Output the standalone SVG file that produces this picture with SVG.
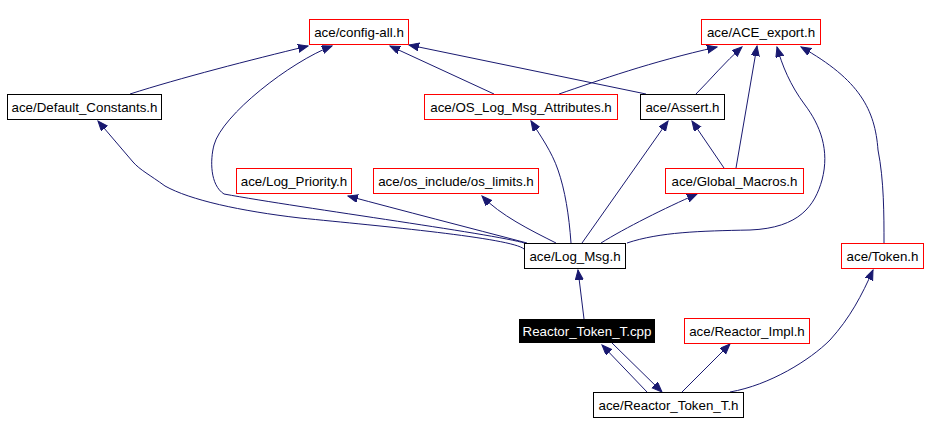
<svg xmlns="http://www.w3.org/2000/svg" width="928" height="435" viewBox="0 0 928 435">
<style>
.n rect{fill:#fff;stroke-width:1}
.r rect{stroke:#ff0000}
.b rect{stroke:#000}
text{font-family:"Liberation Sans",Arial,Helvetica,sans-serif;font-size:13.33px;text-anchor:middle;fill:#000}
.e path{fill:none;stroke:#191970;stroke-width:1;marker-end:url(#ah)}
</style>
<defs>
<marker id="ah" markerUnits="userSpaceOnUse" markerWidth="11" markerHeight="9" refX="10" refY="4" orient="auto" viewBox="0 0 11 9">
<path d="M0,0 L10,4 L0,8 z" fill="#191970" stroke="#191970" stroke-width="1"/>
</marker>
</defs>
<rect width="928" height="435" fill="#fff"/>
<g id="edges" class="e">
<path d="M130,94 C180,78 250,60 308,46"/>
<path d="M527,244 C510,236 300,208 224,194 C210,185 210,160 214,145 C222,115 290,62 332,46"/>
<path d="M524,249 C512,238 380,226 300,218 C240,211 190,200 165,186 C150,175 140,170 133,162 L98,121"/>
<path d="M527,243 C470,228 400,210 348,196"/>
<path d="M556,243 C530,230 500,215 482,196"/>
<path d="M571,243 C569,215 565,190 558,170 C552,152 540,135 531,121"/>
<path d="M582,243 L668,121"/>
<path d="M601,243 C625,228 665,208 697,194"/>
<path d="M627,243 C660,232 700,231 750,230 C800,228 815,205 822,180 C830,150 820,125 805,105 C790,85 782,65 777,47"/>
<path d="M736,168 L757,46"/>
<path d="M724,168 L692,121"/>
<path d="M696,94 C710,80 725,62 742,47"/>
<path d="M646,94 L409,45"/>
<path d="M494,94 L390,46"/>
<path d="M559,94 C600,80 650,62 717,47"/>
<path d="M884,243 C884,215 884,180 878,150 C875,110 860,80 801,47"/>
<path d="M584,319 L578,270"/>
<path d="M647,392 L602,345"/>
<path d="M612,343 L662,392"/>
<path d="M682,392 L730,344"/>
<path d="M730,392 C770,385 810,360 830,340 C850,318 862,295 873,270"/>
</g>
<g id="config_all" class="n r"><rect x="309.5" y="19.5" width="99" height="25"/><text x="359" y="37">ace/config-all.h</text></g>
<g id="ace_export" class="n r"><rect x="701.5" y="19.5" width="119" height="25"/><text x="761" y="37">ace/ACE_export.h</text></g>
<g id="default_constants" class="n b"><rect x="7.5" y="94.5" width="154" height="25"/><text x="84.5" y="112">ace/Default_Constants.h</text></g>
<g id="os_log_msg_attributes" class="n r"><rect x="424.5" y="94.5" width="193" height="25"/><text x="521" y="112">ace/OS_Log_Msg_Attributes.h</text></g>
<g id="assert" class="n b"><rect x="640.5" y="94.5" width="84" height="25"/><text x="682.5" y="112">ace/Assert.h</text></g>
<g id="log_priority" class="n r"><rect x="236.5" y="168.5" width="115" height="25"/><text x="294" y="186">ace/Log_Priority.h</text></g>
<g id="os_limits" class="n r"><rect x="373.5" y="168.5" width="165" height="25"/><text x="456" y="186">ace/os_include/os_limits.h</text></g>
<g id="global_macros" class="n r"><rect x="665.5" y="168.5" width="138" height="25"/><text x="734.5" y="186">ace/Global_Macros.h</text></g>
<g id="log_msg" class="n b"><rect x="524.5" y="243.5" width="101" height="25"/><text x="575" y="261">ace/Log_Msg.h</text></g>
<g id="token" class="n r"><rect x="841.5" y="243.5" width="82" height="25"/><text x="882.5" y="261">ace/Token.h</text></g>
<g id="reactor_token_t_cpp"><rect x="519" y="319" width="136" height="24" fill="#000"/><text x="587" y="336" fill="#fff" style="fill:#fff">Reactor_Token_T.cpp</text></g>
<g id="reactor_impl" class="n r"><rect x="684.5" y="318.5" width="125" height="25"/><text x="747" y="336">ace/Reactor_Impl.h</text></g>
<g id="reactor_token_t_h" class="n b"><rect x="593.5" y="392.5" width="150" height="25"/><text x="668.5" y="410">ace/Reactor_Token_T.h</text></g>
</svg>
